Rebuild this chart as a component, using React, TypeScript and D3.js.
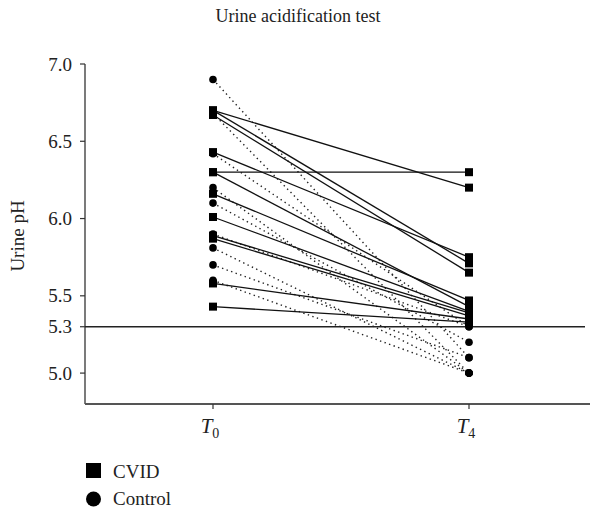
import React from 'react';
import * as d3 from 'd3';

// paired urine pH values, T0 -> T4
const cvidT0 = [6.7, 6.7, 6.67, 6.43, 6.3, 6.3, 6.16, 6.01, 5.89, 5.87, 5.58, 5.43];
const cvidT4 = [6.2, 5.71, 5.65, 5.75, 6.3, 5.43, 5.47, 5.4, 5.39, 5.37, 5.35, 5.33];
const ctrlT0 = [6.9, 6.68, 6.42, 6.2, 6.1, 5.9, 5.81, 5.7, 5.6];
const ctrlT4 = [5.1, 5.0, 5.3, 5.0, 5.2, 5.3, 5.0, 5.1, 5.0];
const yTicks = [5.0, 5.3, 5.5, 6.0, 6.5, 7.0];
const timepoints = ['0', '4'];
const threshold = 5.3;

const W = 591;
const H = 509;
const FONT = "'Liberation Serif', 'DejaVu Serif', serif";

const App = () => {
  const left = 85;
  const right = 590;
  const top = 64;
  const bottom = 404;

  const x = d3.scalePoint<string>().domain(timepoints).range([213, 469]);
  const y = d3.scaleLinear().domain([4.8, 7.0]).range([bottom, top]);
  const line = d3
    .line<[number, number]>()
    .x((d) => d[0])
    .y((d) => d[1]);

  const x0 = x('0') as number;
  const x4 = x('4') as number;
  const sq = 8;

  return (
    <svg
      width={W}
      height={H}
      style={{ position: 'absolute', left: 0, top: 0, background: '#fff', fontFamily: FONT }}
    >
      <text x={298} y={22} textAnchor="middle" fontSize={18} fill="#222">
        Urine acidification test
      </text>

      {/* y axis */}
      <line x1={left} x2={left} y1={top} y2={bottom} stroke="#333" strokeWidth={1.3} />
      {yTicks.map((t) => (
        <g key={t}>
          <line x1={left - 5} x2={left} y1={y(t)} y2={y(t)} stroke="#333" strokeWidth={1.2} />
          <text x={72} y={y(t)} dy="0.35em" textAnchor="end" fontSize={19} fill="#222">
            {t.toFixed(1)}
          </text>
        </g>
      ))}
      <text
        transform={`translate(24,${(top + bottom) / 2 + 2}) rotate(-90)`}
        textAnchor="middle"
        fontSize={19}
        fill="#222"
      >
        Urine pH
      </text>

      {/* x axis */}
      <line x1={left} x2={right} y1={bottom} y2={bottom} stroke="#555" strokeWidth={2} />
      {timepoints.map((t) => (
        <g key={t}>
          <line x1={x(t)} x2={x(t)} y1={bottom} y2={bottom + 5} stroke="#333" strokeWidth={1.2} />
          <text x={(x(t) as number) - 3} y={bottom + 29} textAnchor="middle" fontSize={21} fill="#222">
            <tspan fontStyle="italic">T</tspan>
            <tspan fontSize={14} dy={5}>
              {t}
            </tspan>
          </text>
        </g>
      ))}

      {/* threshold */}
      <line x1={left} x2={585} y1={y(threshold)} y2={y(threshold)} stroke="#222" strokeWidth={1.3} />

      {/* control pairs */}
      {ctrlT0.map((v, i) => (
        <path
          key={`c${i}`}
          d={line([
            [x0, y(v)],
            [x4, y(ctrlT4[i])],
          ]) as string}
          fill="none"
          stroke="#222"
          strokeWidth={1.4}
          strokeDasharray="1.4 3.4"
        />
      ))}

      {/* CVID pairs */}
      {cvidT0.map((v, i) => (
        <path
          key={`v${i}`}
          d={line([
            [x0, y(v)],
            [x4, y(cvidT4[i])],
          ]) as string}
          fill="none"
          stroke="#111"
          strokeWidth={1.3}
        />
      ))}

      {[...cvidT0.map((v) => [x0, v]), ...cvidT4.map((v) => [x4, v])].map(([cx, v], i) => (
        <rect key={`s${i}`} x={cx - sq / 2} y={y(v) - sq / 2} width={sq} height={sq} fill="#000" />
      ))}
      {[...ctrlT0.map((v) => [x0, v]), ...ctrlT4.map((v) => [x4, v])].map(([cx, v], i) => (
        <circle key={`o${i}`} cx={cx} cy={y(v)} r={3.8} fill="#000" />
      ))}

      {/* legend */}
      <rect x={86} y={463} width={15} height={15} fill="#000" />
      <text x={113} y={478} fontSize={19} fill="#222">
        CVID
      </text>
      <circle cx={93.5} cy={499} r={7.5} fill="#000" />
      <text x={113} y={505} fontSize={19} fill="#222">
        Control
      </text>
    </svg>
  );
};

export default App;
